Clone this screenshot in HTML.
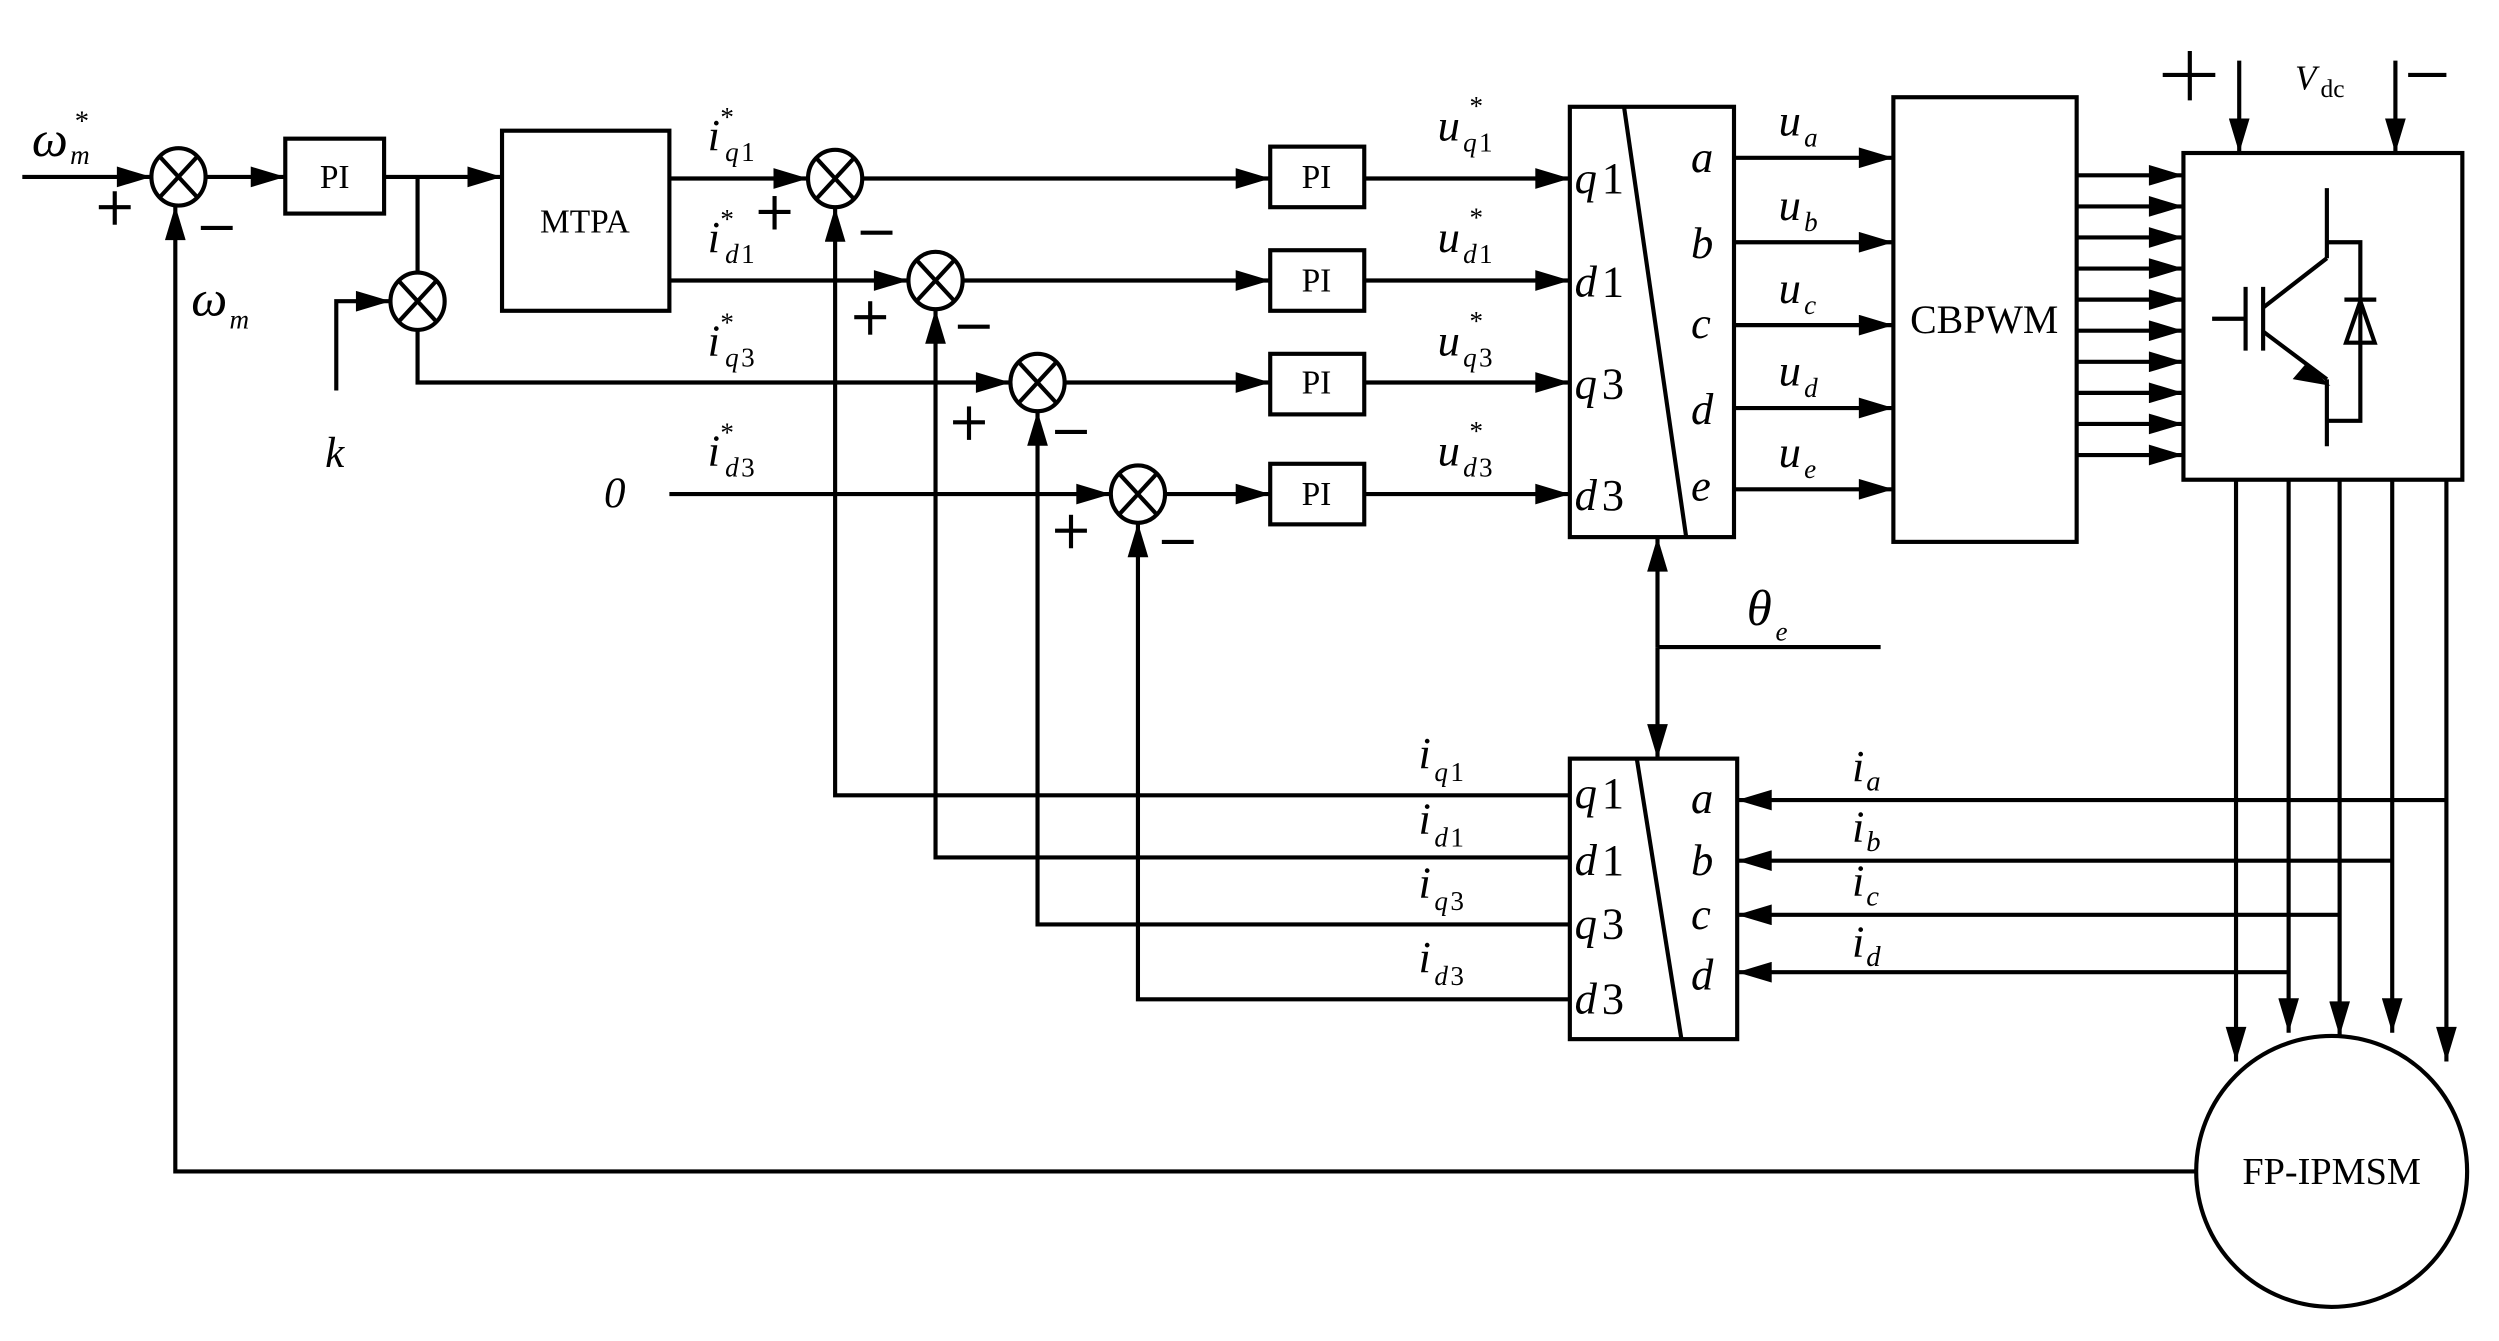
<!DOCTYPE html>
<html><head><meta charset="utf-8"><style>
html,body{margin:0;padding:0;background:#fff}
svg{display:block}
text{font-family:"Liberation Serif",serif;fill:#000}
.i{font-style:italic}
</style></head><body>
<svg width="2499" height="1341" viewBox="0 0 1568 841.4" xmlns="http://www.w3.org/2000/svg">
<defs>
<marker id="A" viewBox="0 0 20 12" refX="20" refY="6" markerWidth="22" markerHeight="13" markerUnits="userSpaceOnUse" orient="auto"><path d="M0,0 L20,6 L0,12z"/></marker>
</defs>
<g stroke="#000" stroke-width="2.6" fill="none">
<line x1="14" y1="111" x2="95" y2="111" marker-end="url(#A)"/>
<ellipse cx="112" cy="111" rx="17" ry="18"/>
<line x1="100" y1="98" x2="124" y2="124"/><line x1="124" y1="98" x2="100" y2="124"/>
<line x1="129" y1="111" x2="179" y2="111" marker-end="url(#A)"/>
<rect x="179" y="87" width="62" height="47"/>
<line x1="241" y1="111" x2="315" y2="111" marker-end="url(#A)"/>
<rect x="315" y="82" width="105" height="113"/>
<line x1="262" y1="111" x2="262" y2="172"/>
<ellipse cx="262" cy="189" rx="17" ry="18"/>
<line x1="250" y1="176" x2="274" y2="202"/><line x1="274" y1="176" x2="250" y2="202"/>
<polyline points="211,245 211,189 245,189" marker-end="url(#A)"/>
<polyline points="262,207 262,240 634,240" marker-end="url(#A)"/>
<line x1="420" y1="112" x2="507" y2="112" marker-end="url(#A)"/>
<line x1="420" y1="176" x2="570" y2="176" marker-end="url(#A)"/>
<line x1="420" y1="310" x2="697" y2="310" marker-end="url(#A)"/>
<g>
<ellipse cx="524" cy="112" rx="17" ry="18"/><line x1="512" y1="99" x2="536" y2="125"/><line x1="536" y1="99" x2="512" y2="125"/>
<ellipse cx="587" cy="176" rx="17" ry="18"/><line x1="575" y1="163" x2="599" y2="189"/><line x1="599" y1="163" x2="575" y2="189"/>
<ellipse cx="651" cy="240" rx="17" ry="18"/><line x1="639" y1="227" x2="663" y2="253"/><line x1="663" y1="227" x2="639" y2="253"/>
<ellipse cx="714" cy="310" rx="17" ry="18"/><line x1="702" y1="297" x2="726" y2="323"/><line x1="726" y1="297" x2="702" y2="323"/>
</g>
<line x1="541" y1="112" x2="797" y2="112" marker-end="url(#A)"/>
<line x1="604" y1="176" x2="797" y2="176" marker-end="url(#A)"/>
<line x1="668" y1="240" x2="797" y2="240" marker-end="url(#A)"/>
<line x1="731" y1="310" x2="797" y2="310" marker-end="url(#A)"/>
<rect x="797" y="92" width="59" height="38"/>
<rect x="797" y="157" width="59" height="38"/>
<rect x="797" y="222" width="59" height="38"/>
<rect x="797" y="291" width="59" height="38"/>
<line x1="856" y1="112" x2="985" y2="112" marker-end="url(#A)"/>
<line x1="856" y1="176" x2="985" y2="176" marker-end="url(#A)"/>
<line x1="856" y1="240" x2="985" y2="240" marker-end="url(#A)"/>
<line x1="856" y1="310" x2="985" y2="310" marker-end="url(#A)"/>
<rect x="985" y="67" width="103" height="270"/>
<line x1="1019" y1="67" x2="1058" y2="337"/>
<line x1="1088" y1="99" x2="1188" y2="99" marker-end="url(#A)"/>
<line x1="1088" y1="152" x2="1188" y2="152" marker-end="url(#A)"/>
<line x1="1088" y1="204" x2="1188" y2="204" marker-end="url(#A)"/>
<line x1="1088" y1="256" x2="1188" y2="256" marker-end="url(#A)"/>
<line x1="1088" y1="307" x2="1188" y2="307" marker-end="url(#A)"/>
<rect x="1188" y="61" width="115" height="279"/>
<line x1="1303" y1="110" x2="1370" y2="110" marker-end="url(#A)"/>
<line x1="1303" y1="129.5" x2="1370" y2="129.5" marker-end="url(#A)"/>
<line x1="1303" y1="149" x2="1370" y2="149" marker-end="url(#A)"/>
<line x1="1303" y1="168.5" x2="1370" y2="168.5" marker-end="url(#A)"/>
<line x1="1303" y1="188" x2="1370" y2="188" marker-end="url(#A)"/>
<line x1="1303" y1="207.5" x2="1370" y2="207.5" marker-end="url(#A)"/>
<line x1="1303" y1="227" x2="1370" y2="227" marker-end="url(#A)"/>
<line x1="1303" y1="246.5" x2="1370" y2="246.5" marker-end="url(#A)"/>
<line x1="1303" y1="266" x2="1370" y2="266" marker-end="url(#A)"/>
<line x1="1303" y1="285.5" x2="1370" y2="285.5" marker-end="url(#A)"/>
<rect x="1370" y="96" width="175" height="205"/>
<line x1="1405" y1="38" x2="1405" y2="96" marker-end="url(#A)"/>
<line x1="1503" y1="38" x2="1503" y2="96" marker-end="url(#A)"/>
<line x1="1357" y1="47" x2="1390" y2="47"/><line x1="1374" y1="32" x2="1374" y2="63"/>
<line x1="1511" y1="47" x2="1535" y2="47"/>
<line x1="1388" y1="200" x2="1409" y2="200"/>
<line x1="1409" y1="180" x2="1409" y2="220"/>
<line x1="1420" y1="180" x2="1420" y2="220"/>
<line x1="1420" y1="193" x2="1460" y2="162"/>
<line x1="1460" y1="118" x2="1460" y2="162"/>
<line x1="1420" y1="208" x2="1460" y2="238"/>
<line x1="1460" y1="238" x2="1460" y2="280"/>
<polyline points="1460,152 1481,152 1481,264 1460,264"/>
<line x1="1471" y1="188" x2="1491" y2="188"/>
<polygon points="1481,189 1472,215 1490,215"/>
<polygon points="1447,230 1458,240 1441,237" fill="#000"/>
<line x1="1403" y1="301" x2="1403" y2="666" marker-end="url(#A)"/>
<line x1="1436" y1="301" x2="1436" y2="648" marker-end="url(#A)"/>
<line x1="1468" y1="301" x2="1468" y2="650" marker-end="url(#A)"/>
<line x1="1501" y1="301" x2="1501" y2="648" marker-end="url(#A)"/>
<line x1="1535" y1="301" x2="1535" y2="666" marker-end="url(#A)"/>
<circle cx="1463" cy="735" r="85"/>
<polyline points="1378,735 110,735 110,129" marker-end="url(#A)"/>
<line x1="1040" y1="406" x2="1040" y2="337" marker-end="url(#A)"/>
<line x1="1040" y1="406" x2="1040" y2="476" marker-end="url(#A)"/>
<line x1="1040" y1="406" x2="1180" y2="406"/>
<rect x="985" y="476" width="105" height="176"/>
<line x1="1027" y1="476" x2="1055" y2="652"/>
<line x1="1535" y1="502" x2="1090" y2="502" marker-end="url(#A)"/>
<line x1="1501" y1="540" x2="1090" y2="540" marker-end="url(#A)"/>
<line x1="1468" y1="574" x2="1090" y2="574" marker-end="url(#A)"/>
<line x1="1436" y1="610" x2="1090" y2="610" marker-end="url(#A)"/>
<polyline points="985,499 524,499 524,130" marker-end="url(#A)"/>
<polyline points="985,538 587,538 587,194" marker-end="url(#A)"/>
<polyline points="985,580 651,580 651,258" marker-end="url(#A)"/>
<polyline points="985,627 714,627 714,328" marker-end="url(#A)"/>
<line x1="62" y1="130" x2="82" y2="130"/><line x1="72" y1="120" x2="72" y2="141"/>
<line x1="126" y1="143" x2="146" y2="143"/>
<line x1="476" y1="133" x2="496" y2="133"/><line x1="486" y1="123" x2="486" y2="144"/>
<line x1="540" y1="146" x2="560" y2="146"/>
<line x1="536" y1="199" x2="556" y2="199"/><line x1="546" y1="189" x2="546" y2="210"/>
<line x1="601" y1="205" x2="621" y2="205"/>
<line x1="598" y1="265" x2="618" y2="265"/><line x1="608" y1="255" x2="608" y2="276"/>
<line x1="662" y1="271" x2="682" y2="271"/>
<line x1="662" y1="333" x2="682" y2="333"/><line x1="672" y1="323" x2="672" y2="344"/>
<line x1="729" y1="340" x2="749" y2="340"/>
</g>
<g font-size="21">
<text x="210" y="118" text-anchor="middle">PI</text>
<text x="367" y="146" text-anchor="middle">MTPA</text>
<text x="826" y="118" text-anchor="middle">PI</text>
<text x="826" y="183" text-anchor="middle">PI</text>
<text x="826" y="247" text-anchor="middle">PI</text>
<text x="826" y="317" text-anchor="middle">PI</text>
<text x="1245" y="209" text-anchor="middle" font-size="25">CBPWM</text>
<text x="1463" y="743" text-anchor="middle" font-size="24">FP-IPMSM</text>
</g>
<g font-size="32" class="i">
<text x="20" y="98" class="i">ω</text><text x="44" y="103" font-size="17" class="i">m</text><text x="46" y="82" font-size="18">*</text>
<text x="120" y="198" class="i">ω</text><text x="144" y="206" font-size="17" class="i">m</text>
<text x="204" y="293" font-size="27" class="i">k</text>
<text x="379" y="318" font-size="27" class="i">0</text>
<text x="1096" y="392" class="i">θ</text><text x="1114" y="402" font-size="17" class="i">e</text>
<text x="1440" y="56" font-size="22" class="i">V</text><text x="1456" y="61" font-size="16" style="font-style:normal">dc</text>
</g>
<g class="i" font-size="28">
<text x="444" y="94">i</text><text x="455" y="101" font-size="17">q</text><text x="465" y="101" font-size="17" style="font-style:normal">1</text><text x="452" y="79" font-size="17" style="font-style:normal">*</text>
<text x="444" y="158">i</text><text x="455" y="165" font-size="17">d</text><text x="465" y="165" font-size="17" style="font-style:normal">1</text><text x="452" y="143" font-size="17" style="font-style:normal">*</text>
<text x="444" y="223">i</text><text x="455" y="230" font-size="17">q</text><text x="465" y="230" font-size="17" style="font-style:normal">3</text><text x="452" y="208" font-size="17" style="font-style:normal">*</text>
<text x="444" y="292">i</text><text x="455" y="299" font-size="17">d</text><text x="465" y="299" font-size="17" style="font-style:normal">3</text><text x="452" y="277" font-size="17" style="font-style:normal">*</text>
<text x="902" y="88">u</text><text x="918" y="95" font-size="17">q</text><text x="928" y="95" font-size="17" style="font-style:normal">1</text><text x="922" y="72" font-size="17" style="font-style:normal">*</text>
<text x="902" y="158">u</text><text x="918" y="165" font-size="17">d</text><text x="928" y="165" font-size="17" style="font-style:normal">1</text><text x="922" y="142" font-size="17" style="font-style:normal">*</text>
<text x="902" y="223">u</text><text x="918" y="230" font-size="17">q</text><text x="928" y="230" font-size="17" style="font-style:normal">3</text><text x="922" y="207" font-size="17" style="font-style:normal">*</text>
<text x="902" y="292">u</text><text x="918" y="299" font-size="17">d</text><text x="928" y="299" font-size="17" style="font-style:normal">3</text><text x="922" y="276" font-size="17" style="font-style:normal">*</text>
<text x="1116" y="85">u</text><text x="1132" y="92" font-size="17">a</text>
<text x="1116" y="138">u</text><text x="1132" y="145" font-size="17">b</text>
<text x="1116" y="190">u</text><text x="1132" y="197" font-size="17">c</text>
<text x="1116" y="242">u</text><text x="1132" y="249" font-size="17">d</text>
<text x="1116" y="293">u</text><text x="1132" y="300" font-size="17">e</text>
<text x="988" y="121">q</text><text x="1005" y="121" style="font-style:normal">1</text>
<text x="988" y="186">d</text><text x="1005" y="186" style="font-style:normal">1</text>
<text x="988" y="250">q</text><text x="1005" y="250" style="font-style:normal">3</text>
<text x="988" y="320">d</text><text x="1005" y="320" style="font-style:normal">3</text>
<text x="1061" y="108">a</text><text x="1061" y="162">b</text><text x="1061" y="212">c</text><text x="1061" y="266">d</text><text x="1061" y="314">e</text>
<text x="988" y="507">q</text><text x="1005" y="507" style="font-style:normal">1</text>
<text x="988" y="549">d</text><text x="1005" y="549" style="font-style:normal">1</text>
<text x="988" y="589">q</text><text x="1005" y="589" style="font-style:normal">3</text>
<text x="988" y="636">d</text><text x="1005" y="636" style="font-style:normal">3</text>
<text x="1061" y="510">a</text><text x="1061" y="549">b</text><text x="1061" y="583">c</text><text x="1061" y="621">d</text>
<text x="890" y="482">i</text><text x="900" y="490" font-size="17">q</text><text x="910" y="490" font-size="17" style="font-style:normal">1</text>
<text x="890" y="523">i</text><text x="900" y="531" font-size="17">d</text><text x="910" y="531" font-size="17" style="font-style:normal">1</text>
<text x="890" y="563">i</text><text x="900" y="571" font-size="17">q</text><text x="910" y="571" font-size="17" style="font-style:normal">3</text>
<text x="890" y="610">i</text><text x="900" y="618" font-size="17">d</text><text x="910" y="618" font-size="17" style="font-style:normal">3</text>
<text x="1162" y="490">i</text><text x="1171" y="496" font-size="18">a</text>
<text x="1162" y="528">i</text><text x="1171" y="534" font-size="18">b</text>
<text x="1162" y="562">i</text><text x="1171" y="568" font-size="18">c</text>
<text x="1162" y="600">i</text><text x="1171" y="606" font-size="18">d</text>
</g>
</svg>
</body></html>
